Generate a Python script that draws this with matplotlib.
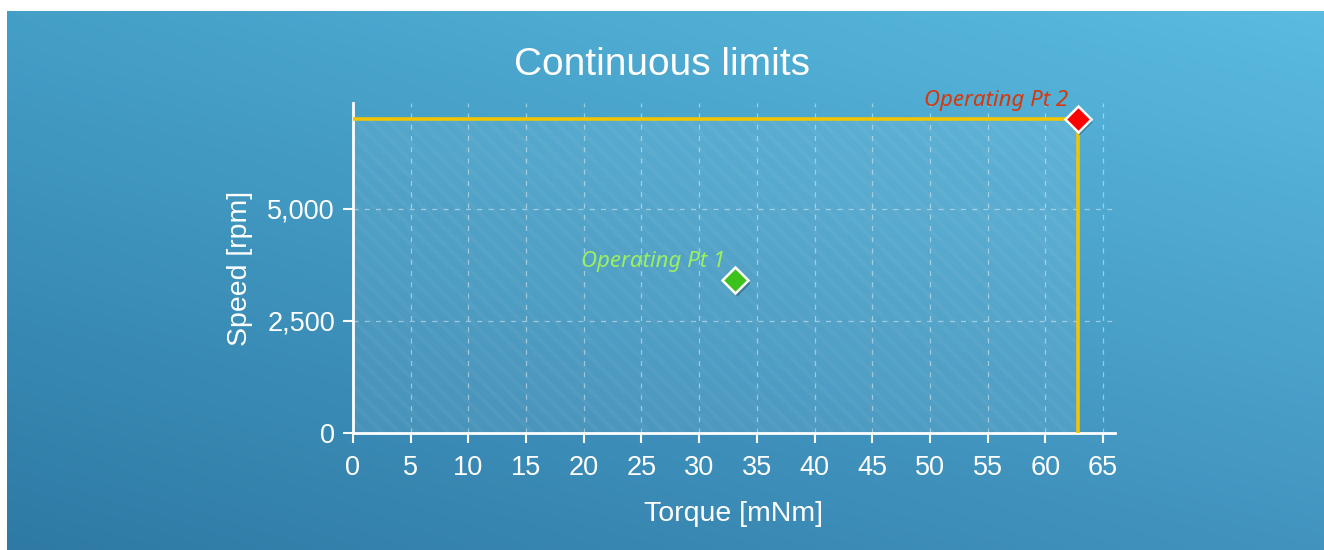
import numpy as np
import matplotlib.pyplot as plt
from matplotlib.ticker import FuncFormatter

# --- Data ---
limit_torque = 62.8          # mNm
limit_speed  = 7010          # rpm
op_names  = ['Operating Pt 1', 'Operating Pt 2']
op_torque = [33.1, 62.8]
op_speed  = [3415, 7010]
op_colors = ['#3cc21a', '#ff0000']
op_text   = ['#9bf060', '#d6380e']
x_ticks = list(range(0, 70, 5))
y_ticks = [0, 2500, 5000]

plt.rcParams['font.family'] = ['Liberation Sans', 'DejaVu Sans']
plt.rcParams['hatch.linewidth'] = 3.0

fig = plt.figure(figsize=(13.24, 5.5), dpi=100)
fig.patch.set_facecolor('white')

# --- Gradient background ---
bg = fig.add_axes([7 / 1324, 0, 1 - 7 / 1324, 1 - 11 / 550])
bg.set_axis_off()
tl = np.array([0x44, 0x9f, 0xc7]) / 255
tr = np.array([0x5b, 0xbb, 0xe0]) / 255
bl = np.array([0x2e, 0x7a, 0xa5]) / 255
br = np.array([0x42, 0x94, 0xbf]) / 255
u = np.linspace(0, 1, 200)[None, :, None]
v = np.linspace(0, 1, 100)[:, None, None]
grad = (1 - v) * ((1 - u) * tl + u * tr) + v * ((1 - u) * bl + u * br)
bg.imshow(grad, aspect='auto', extent=[0, 1, 0, 1], interpolation='bicubic')

# --- Main axes ---
ax = fig.add_axes([353 / 1324, 1 - 433 / 550, (1114.5 - 353) / 1324, 330 / 550])
ax.set_facecolor('none')
ax.set_xlim(0, 66)
ax.set_ylim(0, 7366)

ax.fill_between([0, limit_torque], 0, limit_speed, facecolor=(1, 1, 1, 0.08),
                edgecolor=(1, 1, 1, 0.04), hatch='\\\\', linewidth=0, zorder=1)
ax.plot([0, limit_torque, limit_torque], [limit_speed, limit_speed, 0],
        color='#f2c500', lw=2.6, zorder=3, solid_joinstyle='miter')

for t, s, c, name, tc in zip(op_torque, op_speed, op_colors, op_names, op_text):
    ax.plot(t + 0.15, s - 70, marker='D', ms=13, color=(0, 0, 0, 0.25),
            mec='none', zorder=4)
    ax.plot(t, s, marker='D', ms=13, color=c, mec='white', mew=1.8, zorder=5)
    ax.annotate(name, (t, s), xytext=(-7, 6), textcoords='offset points',
                ha='right', va='bottom', color=tc, fontsize=16,
                style='italic', family=['Noto Sans', 'DejaVu Sans'])

ax.set_xticks(x_ticks)
ax.set_yticks(y_ticks)
ax.yaxis.set_major_formatter(FuncFormatter(lambda v, p: f'{int(v):,}'))
ax.grid(True, color='white', alpha=0.45, ls=(0, (4, 5)), lw=0.9)
ax.set_axisbelow(True)

for side in ['top', 'right']:
    ax.spines[side].set_visible(False)
for side in ['left', 'bottom']:
    ax.spines[side].set_color('white')
    ax.spines[side].set_linewidth(2)
ax.tick_params(colors='white', labelsize=19.5, width=1.5, length=7)
ax.tick_params(axis='x', pad=9)
ax.tick_params(axis='y', pad=6)

ax.set_xlabel('Torque [mNm]', color='white', fontsize=20.5, labelpad=14)
ax.set_ylabel('Speed [rpm]', color='white', fontsize=20.5, labelpad=10)
fig.text(0.5, 1 - 65 / 550, 'Continuous limits', color='white', fontsize=28,
         ha='center', va='center')

fig.savefig('out.png', dpi=100, facecolor=fig.get_facecolor())
